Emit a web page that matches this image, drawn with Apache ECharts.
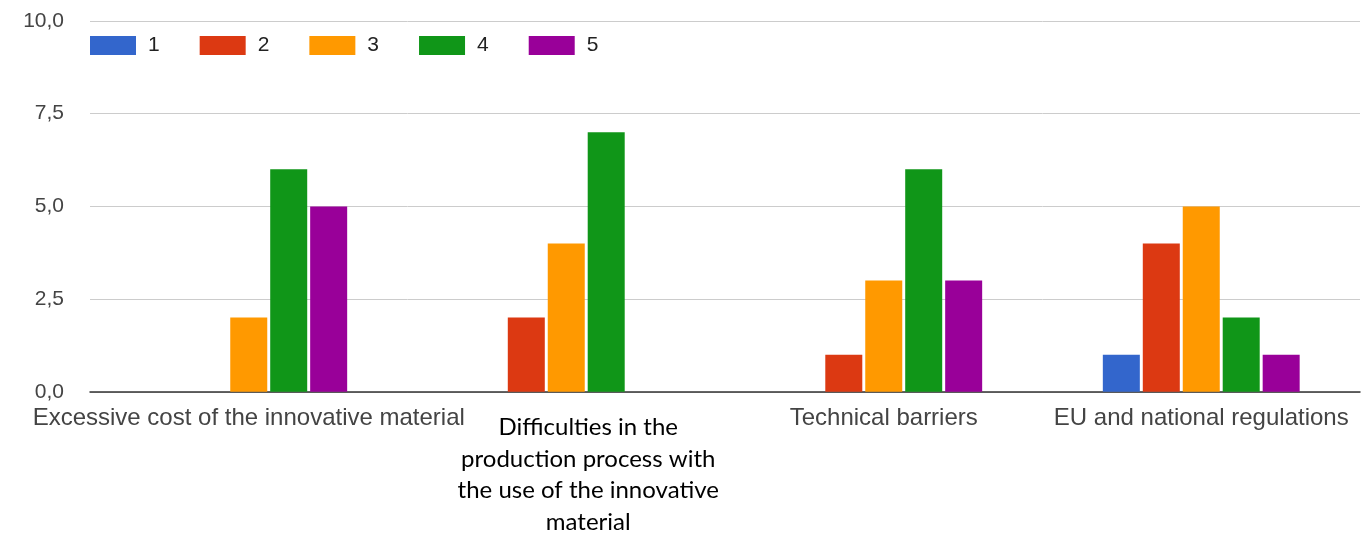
<!DOCTYPE html>
<html>
<head>
<meta charset="utf-8">
<script src="https://cdn.jsdelivr.net/npm/echarts@6/dist/echarts.min.js"></script>
<style>
  html, body { margin: 0; padding: 0; background: #fff; }
  #chart { width: 1365px; height: 534px; }
</style>
</head>
<body>
<div id="chart"></div>
<script>
// Survey answers per obstacle, rated 1..5
const categories = [
  'Excessive cost of the innovative material',
  'Difficulties in the production process with the use of the innovative material',
  'Technical barriers',
  'EU and national regulations'
];
const seriesNames = ['1', '2', '3', '4', '5'];
const rating1 = [0, 0, 0, 1];
const rating2 = [0, 2, 1, 4];
const rating3 = [2, 4, 3, 5];
const rating4 = [6, 7, 6, 2];
const rating5 = [5, 0, 3, 1];
const yTicks = [0, 2.5, 5, 7.5, 10];

// Wrapped lines for the long category label
const wrappedLabel = [
  'Difficulties in the',
  'production process with',
  'the use of the innovative',
  'material'
];

const colors = ['#3366cc', '#dc3912', '#ff9900', '#109618', '#990099'];
const values = [rating1, rating2, rating3, rating4, rating5];

const chart = echarts.init(document.getElementById('chart'), null, { renderer: 'canvas' });

chart.setOption({
  animation: false,
  color: colors,
  textStyle: { fontFamily: 'Arial, "Liberation Sans", sans-serif' },
  grid: { left: 90, right: 5, top: 21, bottom: 141, containLabel: false },
  legend: {
    left: 90,
    top: 35,
    padding: 0,
    itemWidth: 46,
    itemHeight: 19,
    itemGap: 40,
    icon: 'rect',
    data: seriesNames,
    textStyle: {
      fontSize: 21,
      color: '#222',
      fontFamily: 'Arial, "Liberation Sans", sans-serif',
      padding: [0, 0, 0, 7]
    }
  },
  xAxis: {
    type: 'category',
    data: categories,
    axisTick: { show: false },
    axisLine: { lineStyle: { color: '#333', width: 1.5 } },
    axisLabel: {
      interval: 0,
      margin: 15,
      fontSize: 24,
      color: '#444',
      fontFamily: 'Arial, "Liberation Sans", sans-serif',
      formatter: function (value, idx) {
        if (idx === 1) {
          return '{s| }\n' + wrappedLabel.map(function (s) { return '{b|' + s + '}'; }).join('\n');
        }
        return value;
      },
      rich: {
        s: { fontSize: 1, lineHeight: 5 },
        b: {
          fontFamily: 'Lato, "Open Sans", sans-serif',
          fontSize: 24,
          lineHeight: 31.5,
          color: '#000',
          align: 'center',
          padding: [0, 0, 0, 44]
        }
      }
    }
  },
  yAxis: {
    type: 'value',
    min: yTicks[0],
    max: yTicks[yTicks.length - 1],
    interval: yTicks[1] - yTicks[0],
    axisLine: { show: false },
    axisTick: { show: false },
    splitLine: { lineStyle: { color: '#cccccc', width: 1 } },
    axisLabel: {
      margin: 26,
      fontSize: 21,
      color: '#444',
      fontFamily: 'Arial, "Liberation Sans", sans-serif',
      formatter: function (v) { return v.toFixed(1).replace('.', ','); }
    }
  },
  series: seriesNames.map(function (name, i) {
    return {
      name: name,
      type: 'bar',
      data: values[i],
      barWidth: 37,
      barGap: '8%',
      itemStyle: { color: colors[i] }
    };
  })
});
</script>
</body>
</html>
